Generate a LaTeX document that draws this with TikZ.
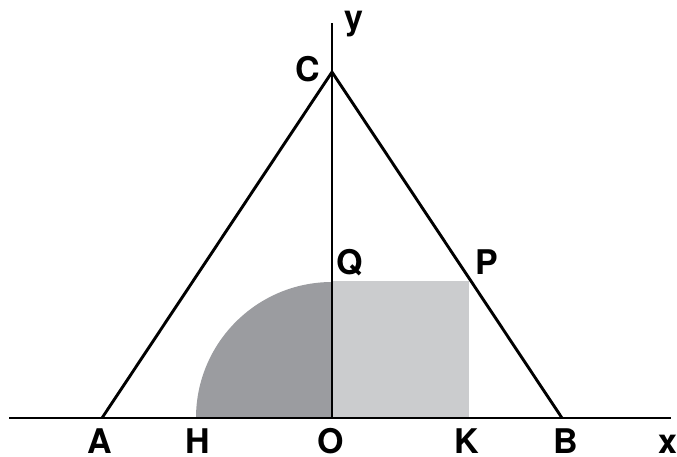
\documentclass[tikz,border=0pt]{standalone}
\usepackage{fontspec}
\setmainfont{TeX Gyre Heros}
\begin{document}
\begin{tikzpicture}[x=1pt,y=-1pt,
  axis/.style={line width=1.6pt},
  tri/.style={line width=2.9pt,line join=miter},
  lbl/.style={font=\fontsize{34}{34}\selectfont\bfseries,inner sep=0pt,anchor=base}]
\useasboundingbox (0,0) rectangle (677,456);
\coordinate (O) at (332,418);
\coordinate (A) at (102,418);
\coordinate (B) at (562,418);
\coordinate (C) at (332,72);
\coordinate (H) at (196,418);
\coordinate (K) at (469,418);
\coordinate (Q) at (332,281);
\coordinate (P) at (469,281);
\coordinate (xl) at (9,418);
\coordinate (xr) at (671,418);
\coordinate (yt) at (332,23);
% shaded regions
\fill[fill={rgb,255:red,155;green,156;blue,160}] (O) -- (H) arc[start angle=180,end angle=270,radius=136] -- cycle;
\fill[fill={rgb,255:red,203;green,204;blue,206}] (O) rectangle (P);
% axes
\draw[axis] (xl) -- (xr);
\draw[axis] (O) -- (yt);
% triangle
\draw[tri] (A) -- (C) -- (B);
% labels
\node[lbl] (lA) at (100,453) {A};
\node[lbl] (lH) at (198,453) {H};
\node[lbl] (lO) at (331,453) {O};
\node[lbl] (lK) at (467,453) {K};
\node[lbl] (lB) at (566,453) {B};
\node[lbl] (lx) at (668,453) {x};
\node[lbl] (ly) at (354,29) {y};
\node[lbl] (lC) at (308,81) {C};
\node[lbl] (lQ) at (350,274) {Q};
\node[lbl] (lP) at (487,274) {P};
\end{tikzpicture}
\end{document}
